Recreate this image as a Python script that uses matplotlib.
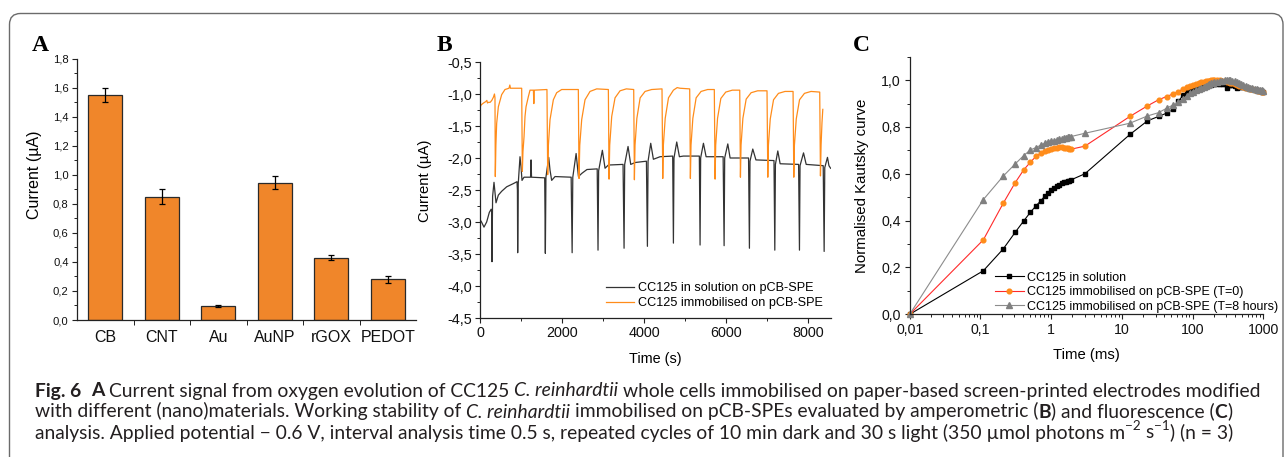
import matplotlib
matplotlib.use("Agg")
import numpy as np
import matplotlib.pyplot as plt
from matplotlib.patches import FancyBboxPatch
from matplotlib.transforms import IdentityTransform
from matplotlib.ticker import (MultipleLocator, FuncFormatter, FixedLocator,
                               FixedFormatter, LogLocator, NullFormatter)
from matplotlib.font_manager import FontProperties

plt.rcParams['font.family'] = ['Liberation Sans', 'DejaVu Sans']

# ---------------- Panel A data ----------------
materials = ['CB', 'CNT', 'Au', 'AuNP', 'rGOX', 'PEDOT']
current_a = [1.55, 0.85, 0.095, 0.945, 0.43, 0.28]
error_a = [0.05, 0.05, 0.005, 0.045, 0.02, 0.022]

# ---------------- Panel B data (time s, current uA) ----------------
sol_trace = [
    (0, -2.97), (30, -3.0), (90, -3.08), (155, -3.0), (220, -2.85), (265, -2.8),
    (278, -2.85), (285, -3.62), (300, -2.6), (334, -2.38), (360, -2.55), (383, -2.7),
    (440, -2.58), (521, -2.52), (643, -2.45), (806, -2.4), (895, -2.37), (905, -2.5),
    (911, -3.48), (925, -2.4), (968, -1.98), (993, -2.14), (1017, -2.35), (1066, -2.3),
    (1225, -2.3), (1237, -2.03), (1249, -2.3), (1570, -2.31), (1586, -3.49), (1600, -2.3),
    (1668, -1.99), (1700, -2.19), (1740, -2.35), (1822, -2.29), (2215, -2.3), (2239, -3.48),
    (2255, -2.3), (2336, -1.93), (2393, -2.29), (2475, -2.24), (2600, -2.18), (2850, -2.17),
    (2870, -3.44), (2885, -2.2), (2976, -1.88), (3041, -2.16), (3122, -2.11), (3480, -2.1),
    (3505, -3.41), (3520, -2.1), (3602, -1.82), (3667, -2.1), (3780, -2.07), (4050, -2.05),
    (4074, -3.38), (4090, -2.05), (4155, -1.77), (4220, -2.02), (4383, -1.98), (4690, -1.97),
    (4708, -3.33), (4722, -2.0), (4789, -1.75), (4854, -1.98), (4950, -1.97), (5340, -1.97),
    (5358, -3.36), (5372, -2.0), (5440, -1.77), (5505, -1.98), (5920, -1.98), (5944, -3.37),
    (5958, -2.0), (6034, -1.78), (6090, -2.0), (6540, -2.0), (6561, -3.41), (6575, -2.05),
    (6643, -1.86), (6720, -2.03), (7160, -2.04), (7180, -3.44), (7195, -2.1), (7253, -1.89),
    (7310, -2.09), (7760, -2.1), (7781, -3.44), (7795, -2.12), (7880, -1.92), (7945, -2.1),
    (8360, -2.12), (8383, -3.46), (8398, -2.15), (8464, -1.99), (8500, -2.12), (8540, -2.16)]

imm_trace = [
    (0, -1.2), (20, -1.17), (80, -1.14), (130, -1.12), (160, -1.1), (175, -1.14),
    (200, -1.13), (240, -1.13), (280, -1.1), (320, -1.05), (345, -1.0), (358, -1.06),
    (366, -2.29), (380, -1.8), (399, -1.46), (440, -1.2), (521, -1.01), (602, -0.93),
    (700, -0.91), (720, -0.86), (735, -0.91), (1009, -0.91), (1025, -2.21), (1040, -1.9),
    (1066, -1.67), (1090, -1.35), (1115, -1.2), (1172, -1.04), (1212, -0.94), (1295, -0.94),
    (1305, -1.15), (1315, -0.94), (1625, -0.93), (1643, -2.26), (1660, -1.8), (1700, -1.40),
    (1781, -1.09), (1862, -0.98), (1984, -0.93), (2390, -0.93), (2407, -2.32), (2425, -1.8),
    (2472, -1.40), (2553, -1.09), (2675, -0.96), (2838, -0.92), (3122, -0.93), (3139, -2.33),
    (3155, -1.8), (3204, -1.35), (3285, -1.06), (3407, -0.95), (3560, -0.92), (3740, -0.93),
    (3757, -2.34), (3772, -1.8), (3817, -1.38), (3897, -1.06), (4017, -0.96), (4177, -0.93),
    (4430, -0.92), (4448, -2.32), (4463, -1.8), (4508, -1.38), (4588, -1.06), (4708, -0.94),
    (4800, -0.90), (4868, -0.91), (5105, -0.92), (5122, -2.32), (5137, -1.8), (5182, -1.38),
    (5262, -1.06), (5382, -0.96), (5542, -0.93), (5705, -0.93), (5724, -2.33), (5739, -1.8),
    (5784, -1.38), (5864, -1.07), (5984, -0.97), (6144, -0.94), (6325, -0.94), (6342, -2.3),
    (6357, -1.8), (6402, -1.38), (6482, -1.08), (6602, -0.98), (6762, -0.95), (6990, -0.95),
    (7009, -2.3), (7024, -1.8), (7069, -1.39), (7149, -1.09), (7269, -0.99), (7429, -0.96),
    (7625, -0.96), (7643, -2.3), (7658, -1.8), (7703, -1.39), (7783, -1.09), (7903, -0.99),
    (8063, -0.96), (8275, -0.97), (8293, -2.28), (8308, -1.8), (8330, -1.45), (8350, -1.24)]

# ---------------- Panel C data (time ms, normalised Kautsky curve) ----------------
kt = [0.01, 0.11, 0.21, 0.31, 0.41, 0.51, 0.61, 0.71, 0.81, 0.91,
      1.01, 1.11, 1.21, 1.31, 1.41, 1.51, 1.61, 1.71, 1.81, 1.91,
      3, 13, 23, 33, 43, 53, 63, 73, 83, 93,
      103, 113, 123, 133, 143, 153, 163, 173, 183, 193,
      203, 223, 243, 263, 283, 303, 323, 343, 363, 393,
      423, 453, 483, 523, 563, 603, 653, 703, 753, 803,
      853, 903, 953, 1000]
k_sol = [0, 0.186, 0.279, 0.35, 0.399, 0.436, 0.463, 0.484, 0.504, 0.52,
         0.531, 0.541, 0.548, 0.554, 0.559, 0.563, 0.566, 0.569, 0.571, 0.574,
         0.60, 0.768, 0.826, 0.845, 0.859, 0.877, 0.909, 0.935, 0.948, 0.955,
         0.96, 0.964, 0.968, 0.971, 0.974, 0.976, 0.978, 0.98, 0.981, 0.982,
         0.983, 0.984, 0.985, 0.984, 0.983, 0.966, 0.98, 0.979, 0.978, 0.976,
         0.968, 0.972, 0.971, 0.969, 0.967, 0.965, 0.963, 0.961, 0.959, 0.957,
         0.955, 0.953, 0.951, 0.95]
k_t0 = [0, 0.318, 0.474, 0.562, 0.617, 0.65, 0.674, 0.688, 0.697, 0.703,
        0.707, 0.71, 0.712, 0.713, 0.713, 0.712, 0.711, 0.709, 0.707, 0.705,
        0.718, 0.845, 0.89, 0.916, 0.93, 0.941, 0.951, 0.962, 0.971, 0.977,
        0.981, 0.985, 0.988, 0.991, 0.993, 0.995, 0.997, 0.998, 0.999, 1.0,
        1.0, 1.0, 0.999, 0.997, 0.995, 0.993, 0.99, 0.988, 0.986, 0.983,
        0.98, 0.977, 0.974, 0.971, 0.968, 0.965, 0.962, 0.96, 0.958, 0.956,
        0.954, 0.952, 0.951, 0.95]
k_t8 = [0, 0.49, 0.59, 0.642, 0.678, 0.702, 0.712, 0.722, 0.73, 0.735,
        0.739, 0.742, 0.745, 0.747, 0.749, 0.751, 0.753, 0.755, 0.757, 0.759,
        0.773, 0.816, 0.847, 0.861, 0.88, 0.894, 0.905, 0.92, 0.933, 0.943,
        0.951, 0.957, 0.963, 0.968, 0.972, 0.976, 0.98, 0.983, 0.986, 0.988,
        0.99, 0.993, 0.996, 0.998, 1.0, 1.0, 1.0, 0.999, 0.998, 0.995,
        0.992, 0.988, 0.985, 0.98, 0.976, 0.972, 0.968, 0.965, 0.962, 0.96,
        0.958, 0.957, 0.956, 0.955]
c_xticks = [0.01, 0.1, 1, 10, 100, 1000]
c_xticklabels = ['0,01', '0,1', '1', '10', '100', '1000']

# ---------------- Caption ----------------
caption_lines = [
    [("Fig. 6", 'b'), ("  ", 'n'), ("A", 'b'),
     (" Current signal from oxygen evolution of CC125 ", 'n'), ("C. reinhardtii", 'i'),
     (" whole cells immobilised on paper-based screen-printed electrodes modified", 'n')],
    [("with different (nano)materials. Working stability of ", 'n'), ("C. reinhardtii", 'i'),
     (" immobilised on pCB-SPEs evaluated by amperometric (", 'n'), ("B", 'b'),
     (") and fluorescence (", 'n'), ("C", 'b'), (")", 'n')],
    [("analysis. Applied potential \u2212 0.6 V, interval analysis time 0.5 s, repeated cycles of "
      "10 min dark and 30 s light (350 \u00b5mol photons m", 'n'), ("\u22122", 's'),
     (" s", 'n'), ("\u22121", 's'), (") (n = 3)", 'n')],
]

# ================= Figure =================
W, H = 1285, 457
fig = plt.figure(figsize=(W / 100, H / 100), dpi=100)


def px_axes(l, t, r, b):
    return fig.add_axes([l / W, 1 - b / H, (r - l) / W, (b - t) / H])


comma1 = FuncFormatter(lambda v, p: f"{v:.1f}".replace('.', ','))
AX = '#222222'


def style(ax, labelsize):
    for s in ('top', 'right'):
        ax.spines[s].set_visible(False)
    for s in ('left', 'bottom'):
        ax.spines[s].set_color(AX)
        ax.spines[s].set_linewidth(0.9)
    ax.tick_params(which='major', direction='out', length=3.6, width=0.8, color=AX,
                   labelsize=labelsize, pad=2.5, labelcolor='#111111')
    ax.tick_params(which='minor', direction='out', length=2.0, width=0.7, color=AX)


# ---- Panel A ----
axA = px_axes(77, 58.7, 416, 320)
style(axA, 8.1)
xa = np.arange(1, len(materials) + 1)
axA.bar(xa, current_a, width=0.6, color='#F0862A', edgecolor='#2a2a2a', linewidth=0.9,
        yerr=error_a, capsize=2.5,
        error_kw=dict(elinewidth=0.9, capthick=0.9, ecolor='black'))
axA.set_xlim(0.5, 6.5)
axA.set_ylim(0, 1.8)
axA.set_xticks(xa)
axA.set_xticklabels(materials)
axA.xaxis.set_minor_locator(FixedLocator([1.5, 2.5, 3.5, 4.5, 5.5]))
axA.tick_params(axis='x', which='major', length=0, labelsize=11.5, pad=7)
axA.tick_params(axis='x', which='minor', length=3.5)
axA.yaxis.set_major_locator(MultipleLocator(0.2))
axA.yaxis.set_minor_locator(MultipleLocator(0.1))
axA.yaxis.set_major_formatter(comma1)
axA.set_ylabel('Current (\u00b5A)', fontsize=11.5)
axA.yaxis.set_label_coords(-0.103, 0.555)

# ---- Panel B ----
axB = px_axes(480.3, 62, 831, 318)
style(axB, 10.4)
sol_t, sol_i = zip(*sol_trace)
imm_t, imm_i = zip(*imm_trace)
axB.plot(sol_t, sol_i, color='#333333', lw=0.9, label='CC125 in solution on pCB-SPE')
axB.plot(imm_t, imm_i, color='#FF8C1A', lw=0.9, label='CC125 immobilised on pCB-SPE')
axB.set_xlim(0, 8550)
axB.set_ylim(-4.5, -0.5)
axB.xaxis.set_major_locator(MultipleLocator(2000))
axB.xaxis.set_minor_locator(MultipleLocator(1000))
axB.yaxis.set_major_locator(MultipleLocator(0.5))
axB.yaxis.set_minor_locator(MultipleLocator(0.25))
axB.yaxis.set_major_formatter(comma1)
axB.set_ylabel('Current (\u00b5A)', fontsize=10.7)
axB.yaxis.set_label_coords(-0.138, 0.536)
axB.set_xlabel('Time (s)', fontsize=10.4)
axB.xaxis.set_label_coords(0.498, -0.132)
legB = axB.legend(loc='upper left', bbox_to_anchor=(0.3576, 0.14), frameon=False,
                  borderaxespad=0, borderpad=0, labelspacing=0.25, handlelength=2.2,
                  handletextpad=0.35, fontsize=9.1)

# ---- Panel C ----
axC = px_axes(909.7, 56.7, 1263.3, 314.3)
style(axC, 10.2)
axC.set_xscale('log')
axC.plot(kt, k_sol, color='black', lw=0.8, marker='s', ms=3.0, mfc='black', mec='black',
         clip_on=False, label='CC125 in solution')
axC.plot(kt, k_t0, color='#FF2A2A', lw=0.8, marker='o', ms=3.4, mfc='#FF8C1A', mec='#FF8C1A',
         clip_on=False, label='CC125 immobilised on pCB-SPE (T=0)')
axC.plot(kt, k_t8, color='#8C8C8C', lw=0.8, marker='^', ms=3.8, mfc='#808080', mec='#808080',
         clip_on=False, label='CC125 immobilised on pCB-SPE (T=8 hours)')
axC.set_xlim(0.01, 1000)
axC.set_ylim(0, 1.1)
axC.xaxis.set_major_locator(FixedLocator(c_xticks))
axC.xaxis.set_major_formatter(FixedFormatter(c_xticklabels))
axC.xaxis.set_minor_locator(LogLocator(base=10, subs=np.arange(2, 10)))
axC.xaxis.set_minor_formatter(NullFormatter())
axC.yaxis.set_major_locator(MultipleLocator(0.2))
axC.yaxis.set_minor_locator(MultipleLocator(0.1))
axC.yaxis.set_major_formatter(comma1)
axC.tick_params(axis='x', which='major', pad=3)
axC.tick_params(axis='y', which='major', pad=3)
axC.set_ylabel('Normalised Kautsky curve', fontsize=10.8)
axC.yaxis.set_label_coords(-0.115, 0.499)
axC.set_xlabel('Time (ms)', fontsize=10.7)
axC.xaxis.set_label_coords(0.4995, -0.131)
legC = axC.legend(loc='upper left', bbox_to_anchor=(0.241, 0.165), frameon=False,
                  borderaxespad=0, borderpad=0, labelspacing=0.2, handlelength=2.3,
                  handletextpad=0.3, fontsize=9.0, numpoints=1)

# ---- Panel letters ----
letter_font = dict(family=['Liberation Serif', 'DejaVu Serif'], fontsize=17, fontweight='bold')
for lx, ly, lt in [(32, 50.7, 'A'), (436.5, 50.7, 'B'), (853, 50.7, 'C')]:
    fig.text(lx / W, 1 - ly / H, lt, ha='left', va='baseline', **letter_font)

# ---- Frame ----
frame = FancyBboxPatch((9.5, -30), 1283 - 9.5, (H - 13.5) + 30,
                       boxstyle="round,pad=0,rounding_size=11", transform=IdentityTransform(),
                       fill=False, edgecolor='#6b6b6b', linewidth=1.0)
fig.add_artist(frame)

# ---- Caption ----
cap_family = ['Lato', 'Open Sans', 'DejaVu Sans']
renderer = fig.canvas.get_renderer()


def seg_prop(style_code, size):
    return FontProperties(family=cap_family,
                          size=size * (0.7 if style_code == 's' else 1.0),
                          weight='bold' if style_code == 'b' else 'normal',
                          style='italic' if style_code == 'i' else 'normal')


def adv(s, prop):
    if not s:
        return 0.0
    w1 = renderer.get_text_width_height_descent('|' + s + '|', prop, ismath=False)[0]
    w0 = renderer.get_text_width_height_descent('||', prop, ismath=False)[0]
    return w1 - w0


def line_width(segs, size):
    return sum(adv(s, seg_prop(c, size)) for s, c in segs)


base = 10.0
cap_size = base * (1263 - 35) / line_width(caption_lines[0], base)

for li, segs in enumerate(caption_lines):
    yb = 396.5 + li * 21
    x = 35.0
    for s, c in segs:
        prop = seg_prop(c, cap_size)
        lead = len(s) - len(s.lstrip(' '))
        core = s.strip(' ')
        trail = len(s) - len(s.rstrip(' ')) if core else 0
        x += adv(' ' * lead, prop)
        if core:
            y = yb - (cap_size * 0.42 * 100 / 72 if c == 's' else 0)
            fig.text(x / W, 1 - y / H, core, fontproperties=prop, ha='left', va='baseline',
                     color='#231f20')
            x += adv(core, prop)
        x += adv(' ' * trail, prop)

fig.savefig('out.png', dpi=100)
